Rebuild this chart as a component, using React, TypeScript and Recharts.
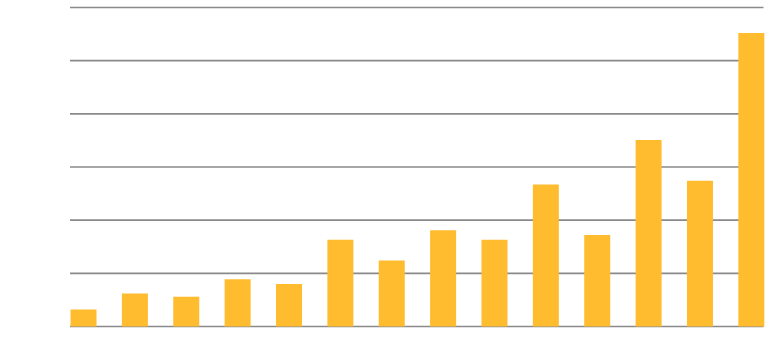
import React from "react";
import { BarChart, Bar, XAxis, YAxis, CartesianGrid } from "recharts";

const positions = [1, 2, 3, 4, 5, 6, 7, 8, 9, 10, 11, 12, 13, 14];
const values = [3.2, 6.2, 5.6, 8.9, 8.0, 16.3, 12.4, 18.1, 16.3, 26.7, 17.2, 35.1, 27.4, 55.2];
const yTicks = [0, 10, 20, 30, 40, 50, 60];

const data = positions.map((x, i) => ({ x, value: values[i] }));

export default function App() {
  return (
    <div style={{ position: "absolute", left: 0, top: 0, width: 768, height: 363, background: "#fff" }}>
      <BarChart
        width={768}
        height={363}
        data={data}
        margin={{ top: 7.5, right: 4.5, bottom: 36.5, left: 70 }}
      >
        <CartesianGrid vertical={false} stroke="#8a8a8a" strokeWidth={1.6} />
        <XAxis
          dataKey="x"
          type="number"
          domain={[0.743, 14.243]}
          hide
        />
        <YAxis domain={[0, 60]} ticks={yTicks} hide />
        <Bar dataKey="value" fill="#FFBC2E" barSize={26} isAnimationActive={false} />
      </BarChart>
    </div>
  );
}
